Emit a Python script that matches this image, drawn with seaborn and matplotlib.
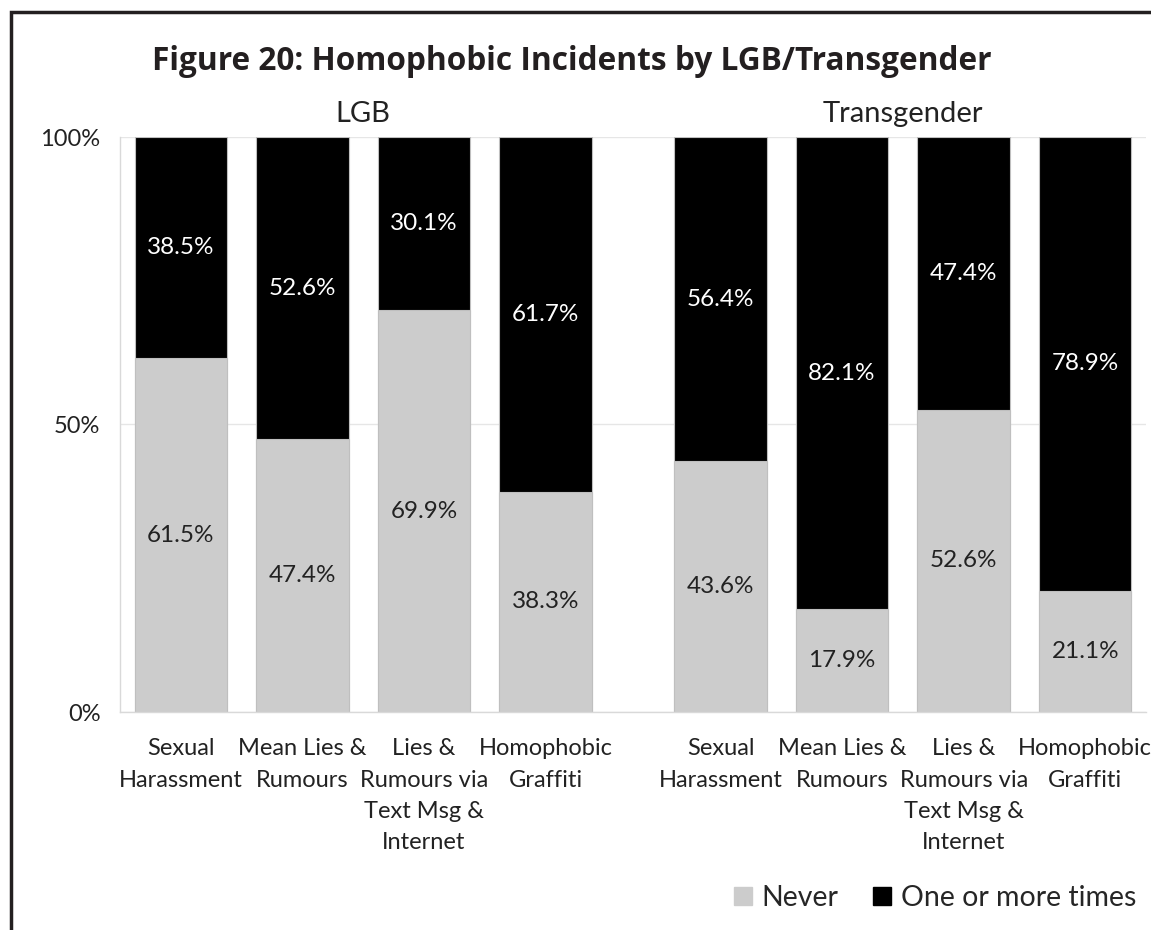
import numpy as np
import pandas as pd
import matplotlib
matplotlib.use("Agg")
import matplotlib.pyplot as plt
import seaborn as sns
from matplotlib.patches import Patch, Rectangle

# Data
groups = ["LGB", "Transgender"]
categories = ["Sexual\nHarassment", "Mean Lies &\nRumours",
              "Lies &\nRumours via\nText Msg &\nInternet", "Homophobic\nGraffiti"]
never_lgb = [61.5, 47.4, 69.9, 38.3]
once_lgb = [38.5, 52.6, 30.1, 61.7]
never_trans = [43.6, 17.9, 52.6, 21.1]
once_trans = [56.4, 82.1, 47.4, 78.9]
y_ticks = [0, 50, 100]
y_labels = ["0%", "50%", "100%"]

GREY = "#cccccc"
BLACK = "#000000"
GAP = 0.44  # narrow blank slot between the two groups

sns.set_theme(style="white")
plt.rcParams["font.family"] = ["Lato", "DejaVu Sans"]

n = len(categories)
pos = list(np.arange(n)) + list(np.arange(n) + n + GAP)
df = pd.DataFrame({
    "pos": pos,
    "never": never_lgb + never_trans,
    "once": once_lgb + once_trans,
})
df["total"] = df["never"] + df["once"]

fig = plt.figure(figsize=(11.51, 9.30), dpi=100)
ax = fig.add_axes([120 / 1151, 1 - 712 / 930, (1146 - 120) / 1151, (712 - 137) / 930])

sns.barplot(data=df, x="pos", y="total", native_scale=True, color=BLACK,
            width=0.76, edgecolor="#bfbfbf", linewidth=0.8, saturation=1, ax=ax)
sns.barplot(data=df, x="pos", y="never", native_scale=True, color=GREY,
            width=0.76, edgecolor="#bfbfbf", linewidth=0.8, saturation=1, ax=ax)

for _, r in df.iterrows():
    ax.text(r["pos"], r["never"] / 2, f"{r['never']:.1f}%", ha="center", va="center",
            fontsize=17.5, color="#222222")
    ax.text(r["pos"], r["never"] + r["once"] / 2, f"{r['once']:.1f}%", ha="center",
            va="center", fontsize=17.5, color="white")

ax.set_xlim(-0.5, 2 * n - 0.5 + GAP)
ax.set_ylim(0, 100)
ax.set_yticks(y_ticks)
ax.set_yticklabels(y_labels, fontsize=17, color="#222222")
ax.yaxis.grid(True, color="#e6e6e6", linewidth=1)
ax.set_axisbelow(True)

bounds = list(np.arange(n + 1) - 0.5) + list(np.arange(n + 1) - 0.5 + n + GAP)
ax.set_xticks(bounds)
ax.set_xticklabels([])
ax.set_xticks(pos, minor=True)
ax.set_xticklabels(categories * 2, minor=True, fontsize=17, color="#222222",
                   linespacing=1.6, va="top")
ax.tick_params(axis="x", which="minor", length=0, pad=19)
ax.tick_params(axis="x", which="major", length=8, color="#d9d9d9", width=1, direction="out")
ax.tick_params(axis="y", length=8, color="#d9d9d9", width=1, direction="out", pad=6)
ax.set_xlabel("")
ax.set_ylabel("")

for s in ["top", "right"]:
    ax.spines[s].set_visible(False)
for s in ["left", "bottom"]:
    ax.spines[s].set_color("#d9d9d9")
    ax.spines[s].set_linewidth(1)

# group headers
for g, start in zip(groups, [0, n + GAP]):
    ax.text(start + (n - 1) / 2, 101.8, g, ha="center", va="bottom", fontsize=21,
            color="#222222", transform=ax.transData)

fig.text(572 / 1151, 1 - 61 / 930, "Figure 20: Homophobic Incidents by LGB/Transgender",
         ha="center", va="center", fontsize=22.8, fontweight="bold",
         family=["Open Sans", "DejaVu Sans"], color="#231f20")

handles = [Patch(facecolor=GREY, edgecolor=GREY), Patch(facecolor=BLACK, edgecolor=BLACK)]
fig.legend(handles, ["Never", "One or more times"], loc="center",
           bbox_to_anchor=(935 / 1151, 1 - 898 / 930), ncol=2, frameon=False,
           fontsize=20.5, handlelength=0.63, handleheight=0.63, handletextpad=0.35,
           columnspacing=1.2)

# outer frame (clipped by the page on the right and bottom)
fig.patches.append(Rectangle((11 / 1151, -0.1), 1.2, 1 - 12 / 930 + 0.1,
                             transform=fig.transFigure, fill=False,
                             edgecolor="#231f20", linewidth=2.5))

fig.savefig("out.png", dpi=100)
